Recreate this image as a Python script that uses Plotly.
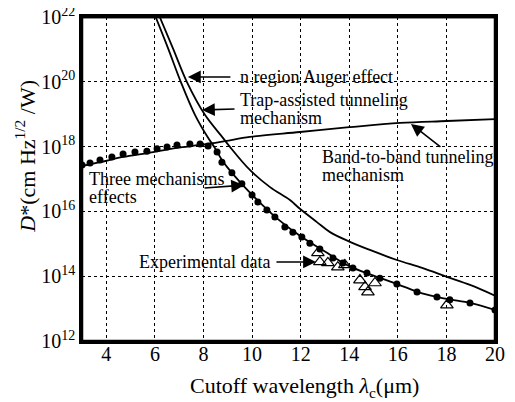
import plotly.graph_objects as go

# Three mechanisms effects (dots) - wavelength (um), log10 D*
three_lam = [3.0, 3.33, 3.74, 4.23, 4.69, 5.18, 5.67, 6.09, 6.50, 6.91, 7.44, 7.86, 8.19, 8.56, 8.76,
             9.17, 9.58, 10.0, 10.24, 10.61, 10.94, 11.35, 11.68, 12.05, 12.38, 12.79, 13.33, 13.74,
             14.15, 14.73, 15.26, 15.96, 16.79, 17.61, 18.14, 18.97, 20.0]
three_log = [17.43, 17.49, 17.59, 17.68, 17.77, 17.83, 17.86, 17.93, 17.99, 18.05, 18.08, 18.08, 18.02,
             17.83, 17.52, 17.19, 16.85, 16.51, 16.29, 16.04, 15.83, 15.52, 15.36, 15.21, 15.02, 14.84,
             14.56, 14.41, 14.25, 14.10, 13.94, 13.76, 13.51, 13.36, 13.27, 13.17, 12.96]

# Band-to-band tunneling mechanism
btb_lam = [3.0, 3.74, 4.69, 5.67, 6.91, 7.86, 8.88, 9.91, 11.97, 14.03, 16.09, 18.02, 20.0]
btb_log = [17.40, 17.52, 17.68, 17.80, 17.96, 18.05, 18.17, 18.30, 18.45, 18.60, 18.73, 18.79, 18.85]

# n region Auger effect (steep, merging into combined curve)
aug_lam = [6.0, 6.54, 7.07, 7.65, 8.19, 8.47, 8.76, 9.17, 10.0, 11.0, 12.0, 13.0, 14.0, 15.0, 16.0,
           17.0, 18.0, 19.0, 20.0]
aug_log = [22.06, 21.04, 19.99, 18.98, 18.27, 17.96, 17.59, 17.19, 16.51, 15.80, 15.23, 14.76, 14.31,
           14.02, 13.75, 13.47, 13.30, 13.17, 12.96]

# Trap-assisted tunneling mechanism
tat_lam = [6.2, 6.74, 7.32, 8.06, 8.80, 9.09, 9.91, 10.74, 11.56, 11.97, 12.67, 13.21, 14.03, 14.85,
           15.96, 17.03, 18.02, 18.97, 20.0]
tat_log = [22.0, 21.04, 19.99, 18.98, 18.27, 17.99, 17.28, 16.75, 16.35, 16.08, 15.67, 15.36, 15.06,
           14.81, 14.50, 14.25, 13.98, 13.73, 13.40]

# Experimental data
exp_lam = [12.71, 12.79, 13.12, 13.53, 13.82, 14.44, 14.65, 14.77, 15.06, 18.02]
exp_log = [14.72, 14.44, 14.41, 14.28, 14.35, 13.88, 13.67, 13.51, 13.79, 13.11]

x_ticks = [4, 6, 8, 10, 12, 14, 16, 18, 20]
y_exps = [12, 14, 16, 18, 20, 22]

FONT = "Liberation Serif"

def pw(v):
    return [10.0 ** a for a in v]

fig = go.Figure()
line = dict(color="black", width=1.8)
fig.add_trace(go.Scatter(x=btb_lam, y=pw(btb_log), mode="lines", line=line, line_shape="spline"))
fig.add_trace(go.Scatter(x=aug_lam, y=pw(aug_log), mode="lines", line=line, line_shape="spline"))
fig.add_trace(go.Scatter(x=tat_lam, y=pw(tat_log), mode="lines", line=line, line_shape="spline"))
fig.add_trace(go.Scatter(x=three_lam, y=pw(three_log), mode="markers",
                         marker=dict(color="black", size=7, symbol="circle")))
fig.add_trace(go.Scatter(x=exp_lam, y=pw(exp_log), mode="markers",
                         marker=dict(color="black", size=11, symbol="triangle-up-open",
                                     line=dict(width=1.2, color="black"))))

ann = []
def txt(x, y, t):
    ann.append(dict(x=x, y=y, xref="x", yref="y", text=t, showarrow=False, xanchor="left",
                    yanchor="middle", font=dict(family=FONT, size=18, color="black")))

def arr(x, y, ax, ay):
    ann.append(dict(x=x, y=y, xref="x", yref="y", text="", showarrow=True, ax=ax, ay=ay,
                    arrowhead=2, arrowsize=1.6, arrowwidth=1.6, arrowcolor="black"))

txt(9.42, 20.15, "n region Auger effect")
txt(9.42, 19.44, "Trap-assisted tunneling")
txt(9.42, 18.88, "mechanism")
txt(12.79, 17.68, "Band-to-band tunneling")
txt(12.79, 17.12, "mechanism")
txt(3.21, 17.0, "Three mechanisms")
txt(3.21, 16.44, "effects")
txt(5.26, 14.44, "Experimental data")

arr(7.36, 20.15, 44, 0)
arr(7.94, 19.13, 34, -1)
arr(16.54, 18.70, 31, 24)
arr(9.67, 16.81, -41, 3)
arr(12.63, 14.44, -41, 0)

ann.append(dict(x=-0.138, y=0.569, xref="paper", yref="paper", textangle=-90, showarrow=False,
                xanchor="center", yanchor="middle",
                text="<i>D</i>*(cm Hz<sup>1/2</sup> /W)", font=dict(family=FONT, size=22, color="black")))
ann.append(dict(x=0.539, y=-0.142, xref="paper", yref="paper", showarrow=False,
                xanchor="center", yanchor="middle",
                text="Cutoff wavelength <i>λ</i><sub>c</sub>(μm)", font=dict(family=FONT, size=22, color="black")))

fig.update_layout(
    width=507, height=394, margin=dict(l=74, r=20, t=9, b=61, autoexpand=False),
    paper_bgcolor="white", plot_bgcolor="white", showlegend=False,
    annotations=ann,
    font=dict(family=FONT, size=18, color="black"),
    shapes=[dict(type="rect", xref="paper", yref="paper", x0=0, x1=1, y0=0, y1=1,
                 line=dict(color="black", width=2.5), layer="above"),
            dict(type="rect", xref="paper", yref="paper", x0=-0.003, x1=1.003, y0=0.996, y1=1.004,
                 fillcolor="black", line=dict(width=0), layer="above")],
)
fig.update_xaxes(range=[3, 20], tickvals=x_ticks, showgrid=True, gridcolor="black", griddash="3px,3px",
                 gridwidth=1.4, showline=True, linecolor="black", linewidth=2.5, mirror=True,
                 ticks="", zeroline=False, automargin=False, ticklabelstandoff=-7,
                 ticklabeloverflow="allow", tickfont=dict(family=FONT, size=20, color="black"))
fig.update_yaxes(type="log", range=[12, 22], tickvals=[10.0 ** e for e in y_exps],
                 ticktext=["10<sup>%d</sup>" % e for e in y_exps],
                 showgrid=True, gridcolor="black", griddash="3px,3px", gridwidth=1.4, showline=True,
                 linecolor="black", linewidth=2.5, mirror=True, ticks="", zeroline=False,
                 automargin=False, ticklabeloverflow="allow",
                 tickfont=dict(family=FONT, size=20, color="black"))

fig.write_html("out.html", config={"displayModeBar": False})
